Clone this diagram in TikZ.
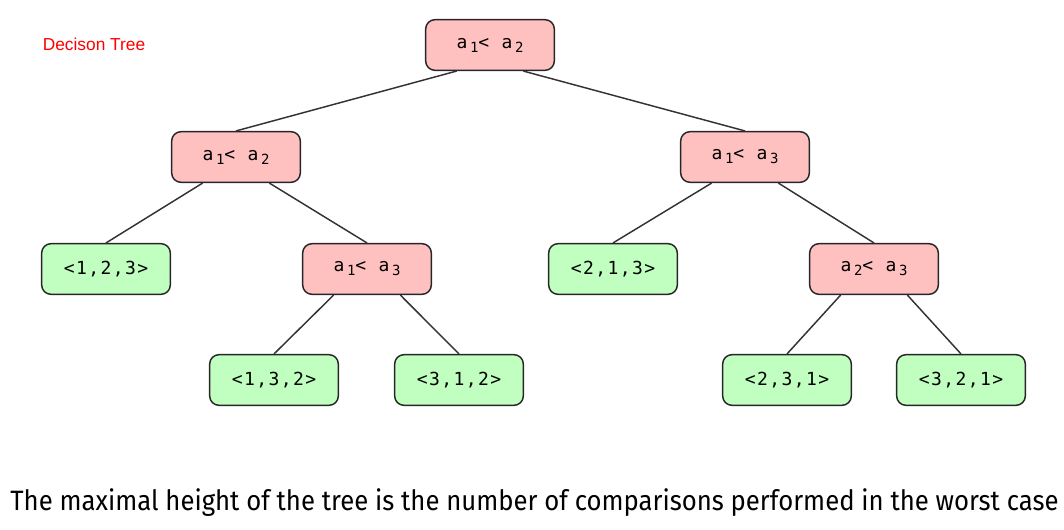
\documentclass[tikz,border=0pt]{standalone}
\usepackage{graphicx}
\usepackage{fontspec}
\setmainfont{Fira Sans}
\newfontfamily\monofont[LetterSpace=8]{DejaVu Sans Mono}
\newfontfamily\titlefont{Liberation Sans}
\usetikzlibrary{positioning}

\definecolor{testpink}{HTML}{FFC0C0}
\definecolor{leafgreen}{HTML}{C0FFC0}
\definecolor{edgegray}{HTML}{333333}

\newcommand{\ix}[1]{\kern2pt\raisebox{-0.4ex}{\fontsize{10.5pt}{11pt}\selectfont #1}}

\tikzset{
  testbox/.style={draw=black!85, fill=testpink, rounded corners=7pt, line width=1.1pt,
    minimum width=96.5pt, minimum height=38pt, font=\monofont\fontsize{13.5pt}{15pt}\selectfont},
  leafbox/.style={testbox, fill=leafgreen},
  branch/.style={draw=edgegray, line width=1.1pt}
}

\begin{document}
\begin{tikzpicture}[x=0.75pt, y=-0.75pt]
    \useasboundingbox (0,0) rectangle (1064,529);
    % title
    \node[text=red, font=\titlefont\fontsize{13pt}{15pt}\selectfont] (title) at (94,44) {Decison Tree};
    % comparisons
    \node[testbox] (root) at (490,45) {a\ix{1}< a\ix{2}};
    \node[testbox] (left) at (236,157) {a\ix{1}< a\ix{2}};
    \node[testbox] (right) at (745,157) {a\ix{1}< a\ix{3}};
    \node[testbox] (leftr) at (367,269) {a\ix{1}< a\ix{3}};
    \node[testbox] (rightr) at (874,269) {a\ix{2}< a\ix{3}};
    % leaves
    \node[leafbox] (p123) at (106,269) {<1,2,3>};
    \node[leafbox] (p213) at (613,269) {<2,1,3>};
    \node[leafbox] (p132) at (274,380) {<1,3,2>};
    \node[leafbox] (p312) at (459,380) {<3,1,2>};
    \node[leafbox] (p231) at (787,380) {<2,3,1>};
    \node[leafbox] (p321) at (961,380) {<3,2,1>};
    % edges
    \draw[branch] (root.-142) -- (left.north);
    \draw[branch] (root.-38) -- (right.north);
    \draw[branch] (left.-142) -- (p123.north);
    \draw[branch] (left.-38) -- (leftr.north);
    \draw[branch] (right.-142) -- (p213.north);
    \draw[branch] (right.-38) -- (rightr.north);
    \draw[branch] (leftr.-142) -- (p132.north);
    \draw[branch] (leftr.-38) -- (p312.north);
    \draw[branch] (rightr.-142) -- (p231.north);
    \draw[branch] (rightr.-38) -- (p321.north);
    % caption
    \node[font=\fontsize{21pt}{24pt}\selectfont, inner sep=0pt] (caption) at (534.5,503) {\scalebox{0.918}[1]{The maximal height of the tree is the number of comparisons performed in the worst case}};
\end{tikzpicture}
\end{document}
